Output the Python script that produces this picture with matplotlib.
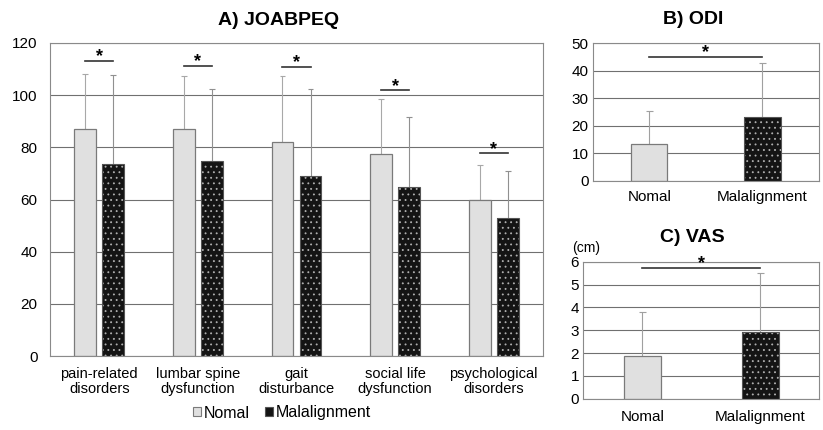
import numpy as np
import matplotlib.pyplot as plt
from matplotlib.patches import Patch

plt.rcParams['font.family'] = ['Liberation Sans', 'DejaVu Sans']
plt.rcParams['hatch.linewidth'] = 0.6

# data
joa_cats = ["pain-related\ndisorders", "lumbar spine\ndysfunction", "gait\ndisturbance",
            "social life\ndysfunction", "psychological\ndisorders"]
joa_nomal = [86.9, 86.9, 82.0, 77.4, 59.7]
joa_nomal_sd = [21.4, 20.3, 25.5, 21.3, 13.5]
joa_mal = [73.7, 74.7, 69.2, 64.7, 52.8]
joa_mal_sd = [34.1, 27.8, 33.1, 26.8, 18.2]
joa_sig = [113.2, 111.3, 110.9, 102.0, 77.7]

grp_cats = ["Nomal", "Malalignment"]
odi_vals = [13.3, 23.0]
odi_sd = [12.2, 19.7]
odi_sig = 45.1
vas_vals = [1.86, 2.93]
vas_sd = [1.95, 2.59]
vas_sig = 5.74

light = '#e0e0e0'
dark = '#141414'
dots = '#b0b0b0'
edge = '#7a7a7a'
gridc = '#707070'


def style(ax, ymax, step, pad):
    ax.set_ylim(0, ymax)
    ax.set_yticks(np.arange(0, ymax + step / 2, step))
    ax.yaxis.grid(True, color=gridc, lw=0.8)
    ax.set_axisbelow(True)
    for s in ax.spines.values():
        s.set_color('#8a8a8a')
        s.set_linewidth(0.8)
    ax.tick_params(axis='both', length=0, labelsize=11)
    ax.tick_params(axis='y', pad=pad)


def bars(ax, x, vals, w, dotted):
    if dotted:
        ax.bar(x, vals, w, color=dark, edgecolor=dots, hatch='...', lw=0, zorder=2)
        ax.bar(x, vals, w, fill=False, edgecolor='#555555', lw=0.8, zorder=3)
    else:
        ax.bar(x, vals, w, color=light, edgecolor=edge, lw=0.9, zorder=2)


def errs(ax, x, vals, sd, cap, color):
    tops = np.array(vals) + np.array(sd)
    ax.vlines(x, vals, tops, color=color, lw=0.8, zorder=1.5)
    ax.hlines(tops, np.array(x) - cap, np.array(x) + cap, color=color, lw=0.8, zorder=1.5)


def star(ax, x0, x1, y):
    ax.plot([x0, x1], [y, y], color='#333333', lw=1.2, zorder=4)
    ax.annotate('*', ((x0 + x1) / 2, y), xytext=(0, -0.5), textcoords='offset points',
                ha='center', va='baseline', fontsize=13, fontweight='bold')


fig = plt.figure(figsize=(8.23, 4.30), dpi=100)

# A) JOABPEQ
axA = fig.add_axes([50 / 823, 74 / 430, 493 / 823, 313 / 430])
x = np.arange(len(joa_cats))
off, w = 0.142, 0.223
errs(axA, x - off, joa_nomal, joa_nomal_sd, 0.03, '#a8a8a8')
errs(axA, x + off, joa_mal, joa_mal_sd, 0.03, '#909090')
bars(axA, x - off, joa_nomal, w, False)
bars(axA, x + off, joa_mal, w, True)
for i, s in enumerate(joa_sig):
    star(axA, x[i] - off, x[i] + off, s)
axA.set_xlim(-0.5, len(joa_cats) - 0.5)
axA.set_xticks(x)
axA.set_xticklabels(joa_cats, fontsize=10.5, linespacing=1.1)
style(axA, 120, 20, 9)
axA.tick_params(axis='x', pad=8, labelsize=10.5)

# B) ODI
axB = fig.add_axes([592.7 / 823, 249.3 / 430, 226.3 / 823, 137.4 / 430])
xb = np.arange(2)
errs(axB, xb, odi_vals, odi_sd, 0.03, '#a0a0a0')
bars(axB, xb[:1], odi_vals[:1], 0.32, False)
bars(axB, xb[1:], odi_vals[1:], 0.32, True)
star(axB, 0, 1, odi_sig)
axB.set_xlim(-0.5, 1.5)
axB.set_xticks(xb)
axB.set_xticklabels(grp_cats)
style(axB, 50, 10, 3)
axB.tick_params(axis='x', pad=7)

# C) VAS
axC = fig.add_axes([583.3 / 823, 31.3 / 430, 236 / 823, 137 / 430])
errs(axC, xb, vas_vals, vas_sd, 0.03, '#a0a0a0')
bars(axC, xb[:1], vas_vals[:1], 0.31, False)
bars(axC, xb[1:], vas_vals[1:], 0.31, True)
star(axC, 0, 1, vas_sig)
axC.set_xlim(-0.5, 1.5)
axC.set_xticks(xb)
axC.set_xticklabels(grp_cats)
style(axC, 6, 1, 3)
axC.tick_params(axis='x', pad=8)

fig.text(279 / 823, 1 - 25 / 430, 'A) JOABPEQ', ha='center', va='baseline', fontsize=14, fontweight='bold')
fig.text(693 / 823, 1 - 24 / 430, 'B) ODI', ha='center', va='baseline', fontsize=14, fontweight='bold')
fig.text(692 / 823, 1 - 242 / 430, 'C) VAS', ha='center', va='baseline', fontsize=14, fontweight='bold')
fig.text(586 / 823, 1 - 248 / 430, '(cm)', ha='center', va='center', fontsize=10)

handles = [Patch(facecolor=light, edgecolor=edge, lw=0.8, label='Nomal'),
           Patch(facecolor=dark, edgecolor='#555555', lw=0.8, label='Malalignment')]
fig.legend(handles=handles, loc='center', bbox_to_anchor=(282 / 823, 1 - 413 / 430), ncol=2,
           frameon=False, fontsize=11.5, handlelength=0.5, handleheight=0.5,
           handletextpad=0.15, columnspacing=1.0, borderpad=0)

fig.savefig('out.png', dpi=100)
